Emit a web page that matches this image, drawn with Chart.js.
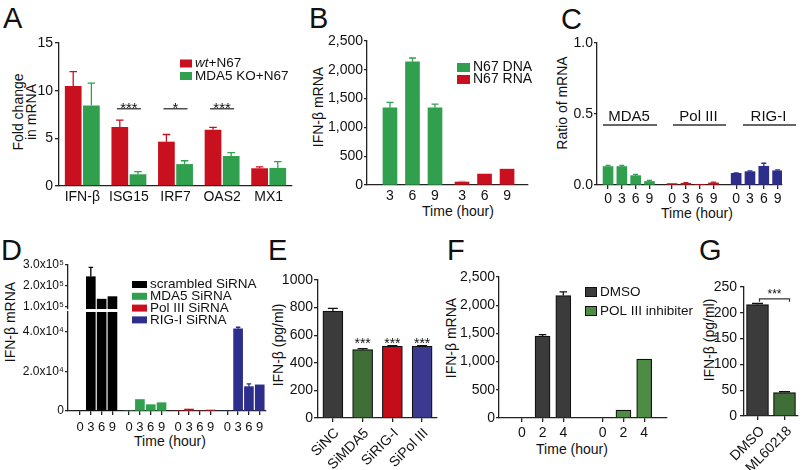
<!DOCTYPE html>
<html><head><meta charset="utf-8">
<script src="https://cdn.jsdelivr.net/npm/chart.js@4.4.1/dist/chart.umd.min.js"></script>
<style>
html,body{margin:0;padding:0;background:#fff}
body{width:812px;height:470px;position:relative;overflow:hidden;font-family:'Liberation Sans',Arial,Helvetica,sans-serif;color:#111}
canvas{position:absolute}
.lt{position:absolute;font-size:29px;line-height:1}
.t{position:absolute;white-space:nowrap;font-size:14px;line-height:1;transform:translate(-50%,-50%)}
.r{transform:translate(-50%,-50%) rotate(-90deg)}
</style></head><body>
<div class="lt" style="left:3px;top:4px">A</div>
<div class="lt" style="left:309px;top:4px">B</div>
<div class="lt" style="left:561px;top:5px">C</div>
<div class="lt" style="left:1px;top:236px">D</div>
<div class="lt" style="left:268px;top:236px">E</div>
<div class="lt" style="left:447px;top:236px">F</div>
<div class="lt" style="left:699px;top:236px">G</div>
<div class="t r" style="left:18px;top:112px">Fold change</div>
<div class="t r" style="left:31px;top:112px">in mRNA</div>
<div class="t r" style="left:318px;top:107px">IFN-β mRNA</div>
<div class="t r" style="left:562px;top:103px">Ratio of mRNA</div>
<div class="t r" style="left:10px;top:322px">IFN-β mRNA</div>
<div class="t r" style="left:278px;top:345px">IFN-β (pg/ml)</div>
<div class="t r" style="left:451px;top:338px">IFN-β mRNA</div>
<div class="t r" style="left:709px;top:340px">IFN-β (pg/ml)</div>
<div class="t" style="left:458px;top:211px">Time (hour)</div>
<div class="t" style="left:697px;top:213px">Time (hour)</div>
<div class="t" style="left:170px;top:441px">Time (hour)</div>
<div class="t" style="left:572px;top:449px">Time (hour)</div>
<script>
// ---------------- data ----------------
const aGenes = ['IFN-β','ISG15','IRF7','OAS2','MX1'];
const aWt = [10.5, 6.2, 4.65, 5.9, 1.86];
const aWtHi = [12.0, 6.9, 5.4, 6.15, 2.0];
const aKo = [8.45, 1.23, 2.3, 3.15, 1.9];
const aKoHi = [10.8, 1.5, 2.65, 3.5, 2.55];
const aSig = ['', '***', '*', '***', ''];

const bTimes = ['3','6','9'];
const bDna = [1340, 2140, 1340];
const bDnaHi = [1435, 2205, 1405];
const bRna = [52, 190, 275];
const bRnaHi = [62, 195, 280];
const bSeries = ['N67 DNA','N67 RNA'];

const cTimes = ['0','3','6','9'];
const cGroups = ['MDA5','Pol III','RIG-I'];
const cMda5 = [0.13, 0.13, 0.066, 0.025];
const cMda5Hi = [0.138, 0.138, 0.075, 0.032];
const cPol3 = [0.01, 0.012, 0.005, 0.015];
const cPol3Hi = [0.013, 0.016, 0.007, 0.02];
const cRig = [0.082, 0.094, 0.132, 0.10];
const cRigHi = [0.086, 0.099, 0.153, 0.106];

const dTimes = ['0','3','6','9'];
const dSeries = ['scrambled SiRNA','MDA5 SiRNA','Pol III SiRNA','RIG-I SiRNA'];
const dScr = [0, 244000, 137000, 149000];
const dScrHi = [0, 289000, 137000, 151000];
const dMda5 = [0, 5800, 3200, 4200];
const dPol3 = [0, 1000, 0, 500];
const dRig = [0, 41500, 12300, 13200];
const dRigHi = [0, 42300, 13700, 13200];
const dUpTicks = [100000, 200000, 300000];
const dUpLabels = ['1.0x10⁵','2.0x10⁵','3.0x10⁵'];
const dLoTicks = [0, 20000, 40000];
const dLoLabels = ['0','2.0x10⁴','4.0x10⁴'];

const eCats = ['SiNC','SiMDA5','SiRIG-I','SiPol III'];
const eVals = [775, 495, 520, 520];
const eHi = [795, 503, 525, 525];
const eSig = ['', '***', '***', '***'];

const fTimes = ['0','2','4'];
const fSeries = ['DMSO','POL III inhibiter'];
const fDmso = [0, 1452, 2170];
const fDmsoHi = [0, 1480, 2235];
const fPol = [0, 140, 1045];
const fPolHi = [0, 145, 1050];

const gCats = ['DMSO','ML60218'];
const gVals = [216, 45.5];
const gHi = [218, 47];
const gSig = '***';

// ---------------- style ----------------
const FONT = "'Liberation Sans', Arial, Helvetica, sans-serif";
const RED = '#c8101f', GREEN = '#30a04f', BLUE = '#2d2d8c', BLACK = '#000';
const DGRAY = '#3b3b3b', DGREEN = '#3f6e37', ERED = '#c40d1b', EBLUE = '#3c3a90', FGREEN = '#4e8c45';
const AX = '#222';
Chart.defaults.font.family = FONT;
Chart.defaults.font.size = 14;
Chart.defaults.color = '#111';
Chart.defaults.animation = false;
Chart.defaults.events = [];
Chart.defaults.plugins.legend.display = false;
Chart.defaults.plugins.tooltip.enabled = false;

function axisY(min, max, tick, grid) {
  return {min, max,
    border:{display:true,color:AX,width:1.3},
    grid:Object.assign({drawOnChartArea:false,drawTicks:true,tickLength:4,color:AX,lineWidth:1.3}, grid||{}),
    ticks:Object.assign({padding:2,color:'#111',font:{size:14},autoSkip:false}, tick||{})};
}
function axisXCat(tickLen, tick) {
  return {type:'category',
    border:{display:true,color:AX,width:1.3},
    grid:{display:tickLen>0,drawOnChartArea:false,drawTicks:tickLen>0,tickLength:tickLen,color:AX,lineWidth:1.3,offset:false},
    ticks:Object.assign({padding:3,color:'#111',font:{size:14},autoSkip:false,maxRotation:0,minRotation:0}, tick||{})};
}
function axisXLin(min, max, pos, labels, tickLen, pad, fs) {
  return {type:'linear', min, max, offset:false,
    afterBuildTicks: s => { s.ticks = pos.map(v => ({value:v})); },
    border:{display:true,color:AX,width:1.3},
    grid:{display:tickLen>0,drawOnChartArea:false,drawTicks:tickLen>0,tickLength:tickLen,color:AX,lineWidth:1.3,offset:false},
    ticks:{padding:pad,color:'#111',font:{size:fs||14},autoSkip:false,maxRotation:0,minRotation:0,callback:(v,i)=>labels[i]}};
}
function mk(box, plot, cfg, extra) {
  const c = document.createElement('canvas');
  c.width = box.w; c.height = box.h;
  Object.assign(c.style, {left:box.l+'px', top:box.t+'px', width:box.w+'px', height:box.h+'px'});
  document.body.appendChild(c);
  const o = cfg.options;
  o.responsive = false; o.maintainAspectRatio = false; o.animation = false;
  const xHidden = o.scales.x.display === false;
  o.layout = {padding:{left:0, top:plot.t-box.t, right:box.l+box.w-plot.r, bottom: xHidden ? box.t+box.h-plot.b : 0}};
  o.scales.y.afterFit = s => { s.width = plot.l - box.l; };
  if (!xHidden) o.scales.x.afterFit = s => { s.height = box.t + box.h - plot.b; };
  cfg.plugins = [{id:'extras', afterDraw: ch => { if (extra) { const ctx = ch.ctx; ctx.save(); extra(ch, ctx, box); ctx.restore(); } }}];
  return new Chart(c, cfg);
}
function errBars(ch, di, hi, color, capFrac, lw) {
  const meta = ch.getDatasetMeta(di), ys = meta.yScale, ctx = ch.ctx, a = ch.chartArea;
  ctx.save();
  ctx.beginPath(); ctx.rect(a.left, a.top - 3, a.right - a.left, a.bottom - a.top + 3); ctx.clip();
  ctx.strokeStyle = color; ctx.lineWidth = lw || 1.3;
  meta.data.forEach((b, i) => {
    const h = hi[i]; if (h == null) return;
    const yt = ys.getPixelForValue(h);
    if (yt >= b.y - 0.5) return;
    const hw = b.width * (capFrac || 0.5) / 2;
    ctx.beginPath(); ctx.moveTo(b.x, b.y); ctx.lineTo(b.x, yt);
    ctx.moveTo(b.x - hw, yt); ctx.lineTo(b.x + hw, yt); ctx.stroke();
  });
  ctx.restore();
}
function txt(ctx, s, x, y, size, align, base, style) {
  ctx.font = (style || '') + ' ' + size + 'px ' + FONT;
  ctx.fillStyle = '#111'; ctx.textAlign = align || 'left'; ctx.textBaseline = base || 'middle';
  ctx.fillText(s, x, y);
}
function legend(ctx, box, x, y, dy, sw, sh, fs, items, border) {
  ctx.save(); ctx.translate(-box.l, -box.t);
  items.forEach((it, i) => {
    const yy = y + i * dy;
    ctx.fillStyle = it.color; ctx.fillRect(x, yy - sh / 2, sw, sh);
    if (border) { ctx.strokeStyle = '#111'; ctx.lineWidth = 1; ctx.strokeRect(x + 0.5, yy - sh / 2 + 0.5, sw - 1, sh - 1); }
    let tx = x + sw + 3;
    it.parts.forEach(p => { txt(ctx, p[0], tx, yy, fs, 'left', 'middle', p[1] || ''); tx += ctx.measureText(p[0]).width; });
  });
  ctx.restore();
}
const pts = (vals, off) => vals.map((v, i) => ({x: off + i, y: v}));

// ---------------- A ----------------
mk({l:0,t:30,w:300,h:185}, {l:59,t:43,r:292,b:186}, {
  type:'bar',
  data:{labels:aGenes, datasets:[
    {label:'wt+N67', data:aWt, backgroundColor:RED, categoryPercentage:0.78, barPercentage:0.92},
    {label:'MDA5 KO+N67', data:aKo, backgroundColor:GREEN, categoryPercentage:0.78, barPercentage:0.92}]},
  options:{scales:{x:axisXCat(0, {padding:3}), y:axisY(0, 15, {stepSize:5})}}
}, (ch, ctx, box) => {
  errBars(ch, 0, aWtHi, RED, 0.45); errBars(ch, 1, aKoHi, GREEN, 0.45);
  const xs = ch.scales.x, ys = ch.scales.y;
  aSig.forEach((s, i) => {
    if (!s) return;
    const cx = xs.getPixelForValue(i), y = ys.getPixelForValue(8.1);
    ctx.strokeStyle = '#333'; ctx.lineWidth = 1.3;
    ctx.beginPath(); ctx.moveTo(cx - 12, y); ctx.lineTo(cx + 12, y); ctx.stroke();
    txt(ctx, s, cx, y + 4, 15, 'center', 'alphabetic');
  });
  legend(ctx, box, 180, 63.5, 12.5, 12, 8, 13.5, [
    {color:RED, parts:[['wt','italic'],['+N67']]},
    {color:GREEN, parts:[['MDA5 KO+N67']]}]);
});

// ---------------- B ----------------
const B_OFF = 3.2;
mk({l:300,t:30,w:240,h:185}, {l:367,t:41,r:528,b:185}, {
  type:'bar',
  data:{datasets:[
    {label:bSeries[0], data:pts(bDna, 0), backgroundColor:GREEN, barThickness:14, grouped:false, clip:0},
    {label:bSeries[1], data:pts(bRna, B_OFF), backgroundColor:RED, barThickness:14, grouped:false, clip:0}]},
  options:{scales:{
    x:axisXLin(-1.02, 6.13, [0,1,2,B_OFF,B_OFF+1,B_OFF+2], bTimes.concat(bTimes), 0, 3),
    y:axisY(0, 2500, {stepSize:500, padding:1, callback:v => v.toLocaleString('en-US')}, {tickLength:3})}}
}, (ch, ctx, box) => {
  errBars(ch, 0, bDnaHi, GREEN, 0.5); errBars(ch, 1, bRnaHi, '#e88a90', 0.5);
  legend(ctx, box, 457, 67.5, 12, 13, 9, 14, [
    {color:GREEN, parts:[[bSeries[0]]]}, {color:RED, parts:[[bSeries[1]]]}]);
});

// ---------------- C ----------------
const C_STRIDE = 4.64;
const cPos = [], cLab = [];
cGroups.forEach((g, gi) => cTimes.forEach((t, k) => { cPos.push(gi * C_STRIDE + k); cLab.push(t); }));
mk({l:540,t:30,w:272,h:190}, {l:597,t:43,r:782,b:185}, {
  type:'bar',
  data:{datasets:[
    {label:cGroups[0], data:pts(cMda5, 0), backgroundColor:GREEN, barThickness:10, grouped:false, clip:0},
    {label:cGroups[1], data:pts(cPol3, C_STRIDE), backgroundColor:RED, barThickness:10, grouped:false, clip:0},
    {label:cGroups[2], data:pts(cRig, 2 * C_STRIDE), backgroundColor:BLUE, barThickness:10, grouped:false, clip:0}]},
  options:{scales:{
    x:axisXLin(-0.8, 12.6, cPos, cLab, 4, 2),
    y:axisY(0, 1, {stepSize:0.5, padding:1, callback:v => v.toFixed(1)}, {tickLength:3})}}
}, (ch, ctx, box) => {
  errBars(ch, 0, cMda5Hi, GREEN, 0.5); errBars(ch, 1, cPol3Hi, RED, 0.5); errBars(ch, 2, cRigHi, BLUE, 0.5);
  ctx.save(); ctx.translate(-box.l, -box.t);
  const spans = [[603,657],[673,726],[743,796]];
  cGroups.forEach((g, gi) => {
    const [x0, x1] = spans[gi];
    ctx.strokeStyle = '#333'; ctx.lineWidth = 1.3;
    ctx.beginPath(); ctx.moveTo(x0, 125); ctx.lineTo(x1, 125); ctx.stroke();
    txt(ctx, g, (x0 + x1) / 2 - 1, 117, 15, 'center', 'middle');
  });
  ctx.restore();
});

// ---------------- D ----------------
const D_STRIDE = 4.54;
const dPos = [], dLab = [];
dSeries.forEach((s, gi) => dTimes.forEach((t, k) => { dPos.push(gi * D_STRIDE + k); dLab.push(t); }));
const dColors = [BLACK, GREEN, RED, BLUE];
const dData = [dScr, dMda5, dPol3, dRig];
// upper (broken axis segment)
mk({l:0,t:250,w:290,h:70}, {l:68,t:265,r:266,b:309}, {
  type:'bar',
  data:{datasets:[{label:dSeries[0], data:pts(dScr, 0), backgroundColor:BLACK, barThickness:9, grouped:false, clip:0}]},
  options:{scales:{
    x:Object.assign(axisXLin(-1.11, 17.2, dPos, dLab, 0, 0), {display:false}),
    y:Object.assign(axisY(90000, 300000, {padding:1, font:{size:12}, callback:(v, i) => dUpLabels[i]}, {tickLength:3}),
      {afterBuildTicks: s => { s.ticks = dUpTicks.map(v => ({value:v})); }})}}
}, (ch) => { errBars(ch, 0, dScrHi, BLACK, 0.5); });
// lower
mk({l:0,t:262,w:290,h:198}, {l:68,t:312,r:266,b:411}, {
  type:'bar',
  data:{datasets:dSeries.map((s, gi) => ({label:s, data:pts(dData[gi], gi * D_STRIDE), backgroundColor:dColors[gi], barThickness:9, grouped:false, clip:0}))},
  options:{scales:{
    x:axisXLin(-1.11, 17.2, dPos, dLab, 4, 5, 13),
    y:Object.assign(axisY(0, 50000, {padding:1, font:{size:12}, callback:(v, i) => dLoLabels[i]}, {tickLength:3}),
      {afterBuildTicks: s => { s.ticks = dLoTicks.map(v => ({value:v})); }})}}
}, (ch, ctx, box) => {
  errBars(ch, 3, dRigHi, BLUE, 0.5);
  legend(ctx, box, 132, 284.5, 11.8, 15, 7, 13.5, dSeries.map((s, i) => ({color:dColors[i], parts:[[s]]})));
});

// ---------------- E ----------------
mk({l:270,t:250,w:175,h:220}, {l:318,t:280,r:437,b:418}, {
  type:'bar',
  data:{labels:eCats, datasets:[{label:'IFN-β', data:eVals, backgroundColor:[DGRAY, DGREEN, ERED, EBLUE], borderColor:'#111', borderWidth:1.2, barThickness:20}]},
  options:{scales:{
    x:axisXCat(4, {padding:3, minRotation:45, maxRotation:45, labelOffset:4}),
    y:axisY(0, 1000, {stepSize:200, padding:1, callback:v => String(v)})}}
}, (ch, ctx) => {
  errBars(ch, 0, eHi, '#111', 0.5);
  const xs = ch.scales.x, ys = ch.scales.y;
  eSig.forEach((s, i) => { if (s) txt(ctx, s, xs.getPixelForValue(i), ys.getPixelForValue(507), 14, 'center', 'alphabetic'); });
});

// ---------------- F ----------------
const F_OFF = 3.9;
mk({l:445,t:250,w:260,h:215}, {l:499,t:277,r:667,b:418}, {
  type:'bar',
  data:{datasets:[
    {label:fSeries[0], data:pts(fDmso, 0), backgroundColor:DGRAY, borderColor:'#111', borderWidth:1.2, barThickness:15, grouped:false, clip:0},
    {label:fSeries[1], data:pts(fPol, F_OFF), backgroundColor:FGREEN, borderColor:'#111', borderWidth:1.2, barThickness:15, grouped:false, clip:0}]},
  options:{scales:{
    x:axisXLin(-1.1, 7.0, [0,1,2,F_OFF,F_OFF+1,F_OFF+2], fTimes.concat(fTimes), 4, 3),
    y:axisY(0, 2500, {stepSize:500, padding:1, callback:v => v.toLocaleString('en-US')}, {tickLength:3})}}
}, (ch, ctx, box) => {
  errBars(ch, 0, fDmsoHi, '#111', 0.5); errBars(ch, 1, fPolHi, '#111', 0.5);
  legend(ctx, box, 585, 292, 19, 12, 10, 13.5, [
    {color:DGRAY, parts:[[fSeries[0]]]}, {color:FGREEN, parts:[[fSeries[1]]]}], true);
});

// ---------------- G ----------------
mk({l:688,t:250,w:124,h:220}, {l:744,t:287,r:798,b:416}, {
  type:'bar',
  data:{labels:gCats, datasets:[{label:'IFN-β', data:gVals, backgroundColor:[DGRAY, DGREEN], borderColor:'#111', borderWidth:1.2, barThickness:22}]},
  options:{scales:{
    x:axisXCat(4, {padding:3, minRotation:45, maxRotation:45, labelOffset:5}),
    y:axisY(0, 250, {stepSize:50, padding:3})}}
}, (ch, ctx) => {
  errBars(ch, 0, gHi, '#111', 0.5);
  const xs = ch.scales.x, ys = ch.scales.y;
  const x0 = xs.getPixelForValue(0) + 2, x1 = xs.getPixelForValue(1) + 5, y = ys.getPixelForValue(227);
  ctx.strokeStyle = '#333'; ctx.lineWidth = 1.2;
  ctx.beginPath(); ctx.moveTo(x0, y + 3); ctx.lineTo(x0, y); ctx.lineTo(x1, y); ctx.lineTo(x1, y + 3); ctx.stroke();
  txt(ctx, gSig, (x0 + x1) / 2, y - 1, 12, 'center', 'alphabetic');
});
</script>
</body></html>
